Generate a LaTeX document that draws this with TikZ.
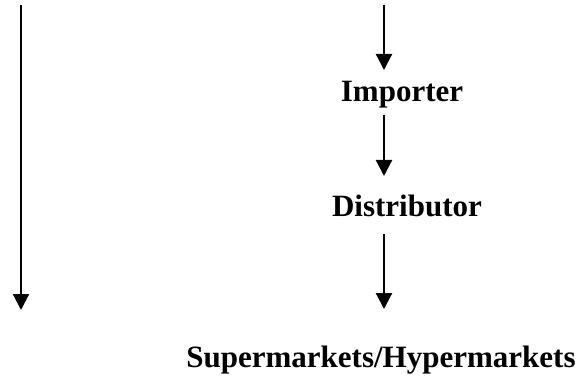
\documentclass[tikz,border=0pt]{standalone}
\usepackage{fontspec}
\setmainfont{Liberation Serif}
\usetikzlibrary{arrows.meta}
\begin{document}
\begin{tikzpicture}[x=1pt,y=-1pt,
  lbl/.style={anchor=base,inner sep=0pt,font=\fontsize{31}{37}\selectfont\bfseries},
  arr/.style={line width=2.2pt,-{Triangle[length=16pt,width=16pt]}}]
\useasboundingbox (0,0) rectangle (584,377);
\node[lbl] (imp) at (402,102) {Importer};
\node[lbl] (dist) at (407,216) {Distributor};
\node[lbl] (super) at (381,367) {Supermarkets/Hypermarkets};
\coordinate (l0) at (21,5);
\coordinate (l1) at (21,310);
\coordinate (r0) at (384,5);
\coordinate (r1) at (384,70);
\coordinate (r2) at (384,115);
\coordinate (r3) at (384,176);
\coordinate (r4) at (384,234);
\coordinate (r5) at (384,309);
\draw[arr] (l0) -- (l1);
\draw[arr] (r0) -- (r1);
\draw[arr] (r2) -- (r3);
\draw[arr] (r4) -- (r5);
\end{tikzpicture}
\end{document}
